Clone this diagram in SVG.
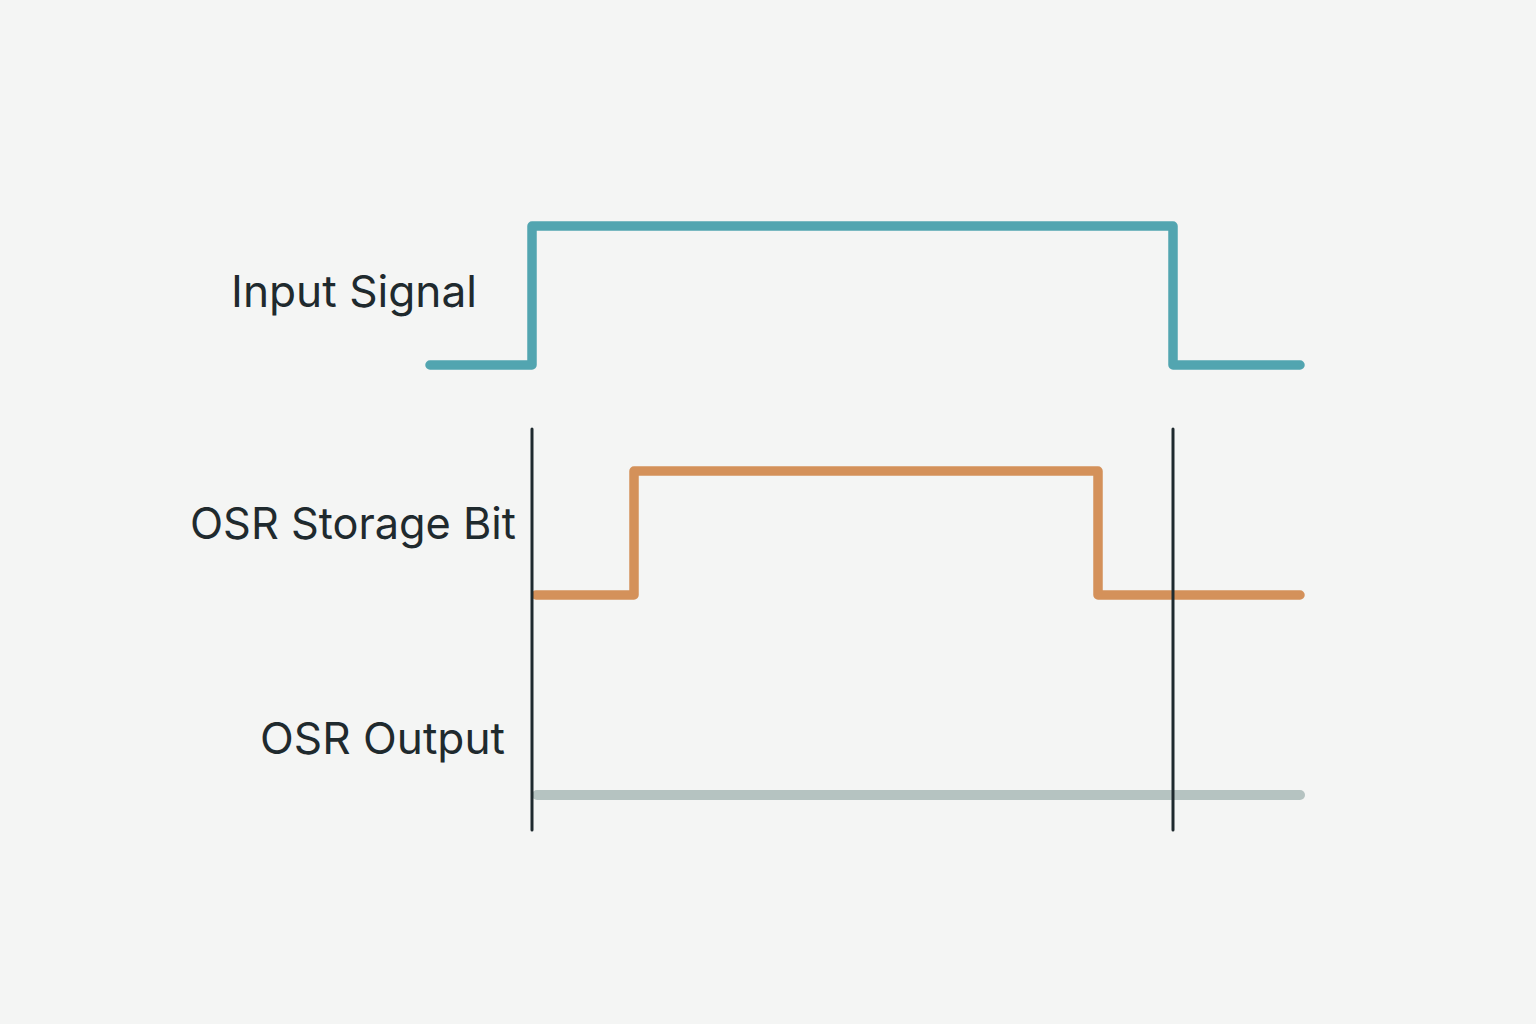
<svg xmlns="http://www.w3.org/2000/svg" width="1536" height="1024" viewBox="0 0 1536 1024">
<style>
.lbl{font-family:Inter,"Noto Sans","Liberation Sans",sans-serif;font-size:44px;fill:#1f2a2e}
.sig{fill:none;stroke-width:9.5;stroke-linejoin:round;stroke-linecap:round}
.marker{stroke:#1e2a2e;stroke-width:3;stroke-linecap:round}
</style>
<rect width="1536" height="1024" fill="#f4f5f4"/>
<g id="label-input"><text class="lbl" x="231" y="307" textLength="246" lengthAdjust="spacingAndGlyphs">Input Signal</text></g>
<g id="label-storage"><text class="lbl" x="190" y="539" textLength="326" lengthAdjust="spacingAndGlyphs">OSR Storage Bit</text></g>
<g id="label-output"><text class="lbl" x="260" y="754" textLength="245" lengthAdjust="spacingAndGlyphs">OSR Output</text></g>
<g id="connectors">
<path id="input-signal" class="sig" stroke="#52a5b0" d="M430,365 H532 V226 H1173 V365 H1300"/>
<path id="storage-bit" class="sig" stroke="#d4915a" d="M536,595 H634 V471 H1098 V595 H1300"/>
<path id="osr-output" fill="none" stroke="#b5c3c1" stroke-width="10" d="M537,795 H1300" stroke-linecap="round"/>
<line class="marker" x1="532" y1="429" x2="532" y2="830"/>
<line class="marker" x1="1173" y1="429" x2="1173" y2="830"/>
</g>
</svg>
